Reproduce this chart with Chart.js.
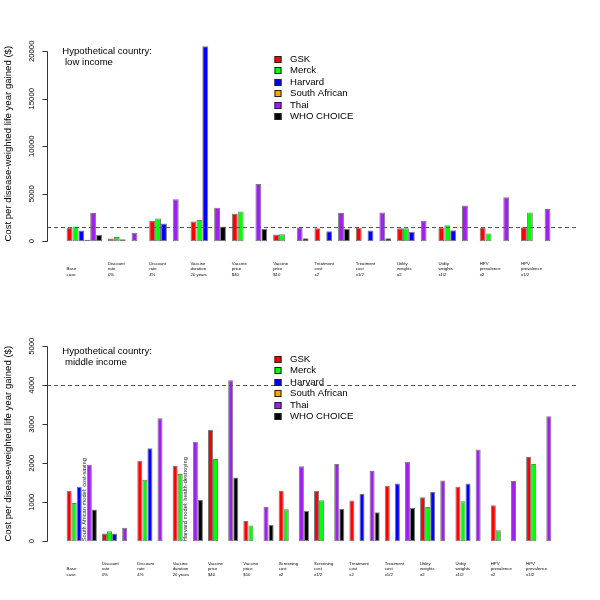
<!DOCTYPE html>
<html><head><meta charset="utf-8">
<script src="https://cdn.jsdelivr.net/npm/chart.js@4/dist/chart.umd.min.js"></script>
<style>
html,body{margin:0;padding:0;background:#fff;}
canvas{display:block;}
</style></head>
<body>
<canvas id="c1" width="600" height="300"></canvas>
<canvas id="c2" width="600" height="300"></canvas>
<script>
const seriesNames = ['GSK','Merck','Harvard','South African','Thai','WHO CHOICE'];
const seriesColors = ['#FF0000','#00FF00','#0000FF','#FFA500','#A020F0','#000000'];
const yAxisTitle = 'Cost per disease-weighted life year gained ($)';

// ---- Panel 1: low income ----
const lowTitle = ['Hypothetical country:', ' low income'];
const lowLabels = [
  ['', 'Base', 'case'], ['Discount', 'rate', '0%'], ['Discount', 'rate', '4%'],
  ['Vaccine', 'duration', '20 years'], ['Vaccine', 'price', '$40'], ['Vaccine', 'price', '$10'],
  ['Treatment', 'cost', 'x2'], ['Treatment', 'cost', 'x1/2'],
  ['Utility', 'weights', 'x2'], ['Utility', 'weights', 'x1/2'],
  ['HPV', 'prevalence', 'x2'], ['HPV', 'prevalence', 'x1/2']
];
const lowGSK          = [1410, 285, 2150, 2080, 2860, 705, 1375, 1410, 1375, 1450, 1410, 1480];
const lowMerck        = [1555, 455, 2400, 2220, 3140, 740, null, null, 1375, 1690, 810, 3030];
const lowHarvard      = [1130, 210, 1870, 20525, null, null, 1060, 1130, 990, 1160, null, null];
const lowSouthAfrican = [150, null, null, null, null, null, null, null, null, null, null, null];
const lowThai         = [2960, 880, 4410, 3525, 6030, 1480, 2960, 3030, 2150, 3770, 4620, 3390];
const lowWHO          = [670, null, null, 1550, 1305, 318, 1305, 318, null, null, null, null];
const lowThreshold = 1450;
const lowTicks = [0, 5000, 10000, 15000, 20000];
const lowYMax = 20525;
const lowNotes = [];

// ---- Panel 2: middle income ----
const midTitle = ['Hypothetical country:', ' middle income'];
const midLabels = [
  ['', 'Base', 'case'], ['Discount', 'rate', '0%'], ['Discount', 'rate', '4%'],
  ['Vaccine', 'duration', '20 years'], ['Vaccine', 'price', '$40'], ['Vaccine', 'price', '$10'],
  ['Screening', 'cost', 'x2'], ['Screening', 'cost', 'x1/2'],
  ['Treatment', 'cost', 'x2'], ['Treatment', 'cost', 'x1/2'],
  ['Utility', 'weights', 'x2'], ['Utility', 'weights', 'x1/2'],
  ['HPV', 'prevalence', 'x2'], ['HPV', 'prevalence', 'x1/2']
];
const midGSK          = [1294, 197, 2065, 1928, 2851, 517, 1292, 1292, 1042, 1421, 1128, 1395, 922, 2162];
const midMerck        = [977, 257, 1577, 1722, 2110, 405, 818, 1051, null, null, 879, 1025, 284, 1981];
const midHarvard      = [1388, 197, 2382, null, null, null, null, null, 1214, 1481, 1266, 1481, null, null];
const midSouthAfrican = [null, null, null, null, null, null, null, null, null, null, null, null, null, null];
const midThai         = [1962, 343, 3153, 2553, 4126, 879, 1921, 1981, 1800, 2041, 1559, 2351, 1542, 3204];
const midWHO          = [814, null, null, 1054, 1637, 413, 775, 835, 741, 853, null, null, null, null];
const midThreshold = 4000;
const midTicks = [0, 1000, 2000, 3000, 4000, 5000];
const midYMax = 5000;
const midNotes = [
  {group: 0, series: 3, text: 'South African model: cost-saving'},
  {group: 3, series: 2, text: 'Harvard model: health-destroying'}
];

const FONT = '"Liberation Sans", Arial, Helvetica, sans-serif';

function makeChart(canvasId, labels, series, yMax, yTicks, threshold, titleLines, notes) {
  const n = labels.length;
  const ext = 0.04 * (7 * n - 1);
  const xMin = (-3 - ext) / 7, xMax = (7 * n - 4 + ext) / 7;

  const datasets = series.map((vals, i) => ({
    label: seriesNames[i],
    data: vals.map((v, k) => ({x: k, y: v})),
    backgroundColor: seriesColors[i],
    borderColor: '#7a7a7a',
    borderWidth: 1,
    borderSkipped: false,
    categoryPercentage: 6 / 7,
    barPercentage: 1
  }));

  const decor = {
    id: 'decor',
    afterDatasetsDraw(chart) {
      const ctx = chart.ctx, ca = chart.chartArea;
      const ys = chart.scales.y, xs = chart.scales.x;
      ctx.save();
      // threshold dashed line
      const ty = Math.round(ys.getPixelForValue(threshold)) + 0.5;
      ctx.strokeStyle = '#555';
      ctx.lineWidth = 1;
      ctx.setLineDash([4, 3]);
      ctx.beginPath(); ctx.moveTo(ca.left, ty); ctx.lineTo(ca.right, ty); ctx.stroke();
      ctx.setLineDash([]);
      // y axis line and ticks
      const ax = ca.left + 0.5;
      ctx.strokeStyle = '#333';
      ctx.beginPath();
      ctx.moveTo(ax, Math.round(ys.getPixelForValue(yTicks[0])) + 0.5);
      ctx.lineTo(ax, Math.round(ys.getPixelForValue(yTicks[yTicks.length - 1])) + 0.5);
      yTicks.forEach(t => {
        const py = Math.round(ys.getPixelForValue(t)) + 0.5;
        ctx.moveTo(ax, py); ctx.lineTo(ax - 5, py);
      });
      ctx.stroke();
      // y tick labels (rotated)
      ctx.fillStyle = '#000';
      ctx.font = '7.7px ' + FONT;
      ctx.textAlign = 'center';
      ctx.textBaseline = 'middle';
      yTicks.forEach(t => {
        ctx.save();
        ctx.translate(ca.left - 15.5, ys.getPixelForValue(t));
        ctx.rotate(-Math.PI / 2);
        ctx.fillText(String(t), 0, 0);
        ctx.restore();
      });
      // panel title
      ctx.font = '9.6px ' + FONT;
      ctx.textAlign = 'left';
      titleLines.forEach((s, i) => ctx.fillText(s, ca.left + 15.3, ca.top + 12.5 + i * 11.3));
      // legend
      seriesNames.forEach((s, i) => {
        const cy = ca.top + 20.5 + i * 11.55;
        const lx = ca.left + 227.5;
        ctx.fillStyle = seriesColors[i];
        ctx.fillRect(lx, Math.round(cy - 3.5), 7, 7);
        ctx.strokeStyle = '#222';
        ctx.strokeRect(lx + 0.5, Math.round(cy - 3.5) + 0.5, 6, 6);
        ctx.fillStyle = '#000';
        ctx.fillText(s, ca.left + 243, cy);
      });
      // vertical notes
      ctx.font = '5.7px ' + FONT;
      ctx.fillStyle = '#222';
      notes.forEach(nt => {
        const meta = chart.getDatasetMeta(nt.series);
        let x = meta.data[nt.group] && meta.data[nt.group].x;
        if (!isFinite(x)) {
          const unit = (xs.getPixelForValue(1) - xs.getPixelForValue(0)) / 7;
          x = xs.getPixelForValue(nt.group) + (nt.series - 2.5) * unit;
        }
        ctx.save();
        ctx.translate(x, ys.getPixelForValue(0));
        ctx.rotate(-Math.PI / 2);
        ctx.textAlign = 'left';
        ctx.textBaseline = 'middle';
        ctx.fillText(nt.text, 0, 0);
        ctx.restore();
      });
      ctx.restore();
    }
  };

  return new Chart(document.getElementById(canvasId), {
    type: 'bar',
    data: {datasets},
    options: {
      responsive: false,
      animation: false,
      devicePixelRatio: 1,
      layout: {padding: {top: 38.5, right: 24, bottom: 0, left: 0}},
      plugins: {legend: {display: false}, tooltip: {enabled: false}},
      scales: {
        x: {
          type: 'linear',
          offset: false,
          min: xMin, max: xMax,
          grid: {display: false, offset: false},
          border: {display: false},
          afterBuildTicks: s => { s.ticks = labels.map((_, k) => ({value: k - 3 / 7})); },
          afterFit: s => { s.height = 51; },
          ticks: {
            align: 'start', autoSkip: false, maxRotation: 0, minRotation: 0,
            padding: 4, color: '#000',
            font: {size: 4.3, family: FONT, lineHeight: 1.28},
            callback: (v, i) => labels[i]
          }
        },
        y: {
          type: 'linear',
          min: -0.04 * yMax, max: 1.04 * yMax,
          grid: {display: false},
          border: {display: false},
          ticks: {display: false},
          afterFit: s => { s.width = 47; },
          title: {display: true, text: yAxisTitle, color: '#000',
                  font: {size: 9.6, family: FONT}, padding: {top: 3, bottom: 0}}
        }
      }
    },
    plugins: [decor]
  });
}

makeChart('c1', lowLabels, [lowGSK, lowMerck, lowHarvard, lowSouthAfrican, lowThai, lowWHO],
          lowYMax, lowTicks, lowThreshold, lowTitle, lowNotes);
makeChart('c2', midLabels, [midGSK, midMerck, midHarvard, midSouthAfrican, midThai, midWHO],
          midYMax, midTicks, midThreshold, midTitle, midNotes);
</script>
</body></html>
